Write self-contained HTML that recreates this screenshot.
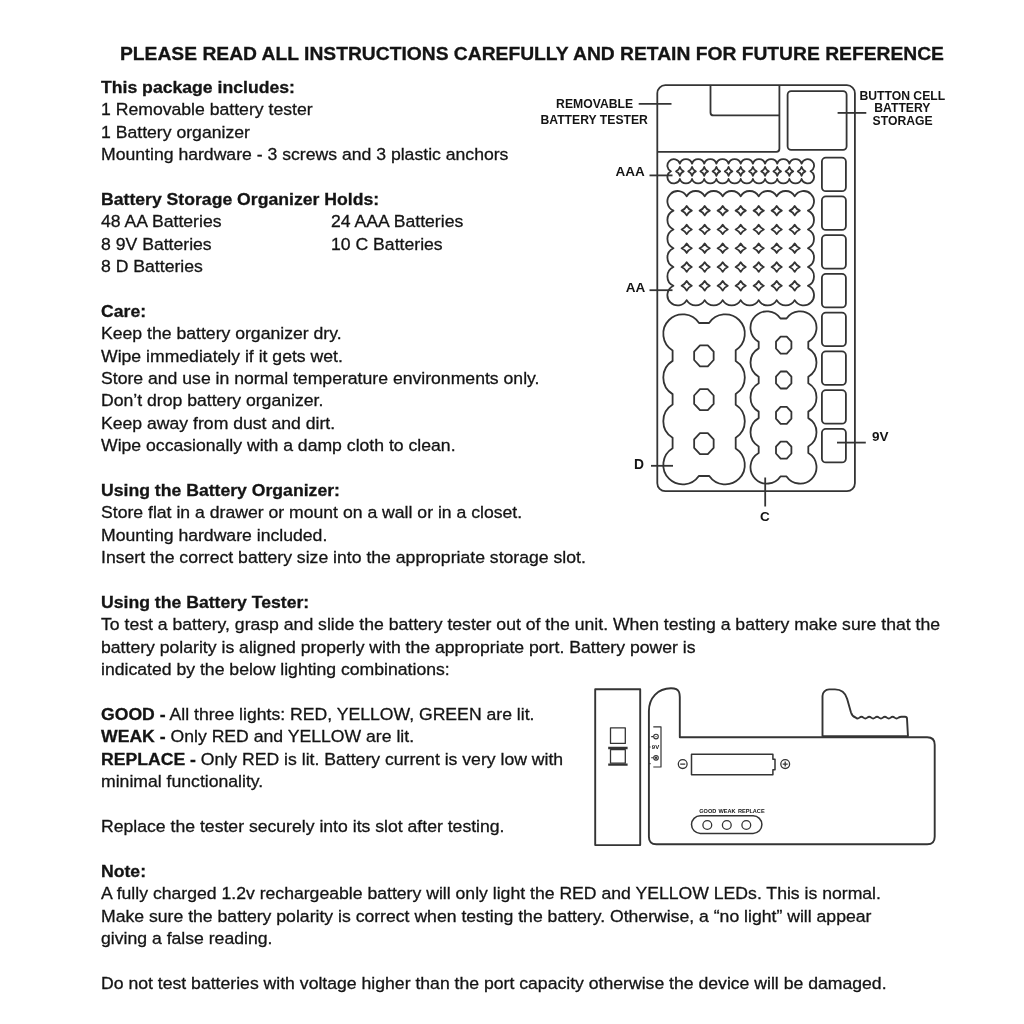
<!DOCTYPE html>
<html><head><meta charset="utf-8"><title>Instructions</title>
<style>
html,body{margin:0;padding:0;background:#fff;}
body{width:1024px;height:1024px;position:relative;overflow:hidden;font-family:"Liberation Sans",sans-serif;color:#141414;filter:blur(0.5px);}
.t{position:absolute;white-space:nowrap;line-height:20px;transform-origin:0 50%;-webkit-text-stroke:0.3px #141414;}
.t b{font-weight:bold;}
.lb{position:absolute;white-space:nowrap;font-weight:bold;line-height:14px;color:#141414;filter:blur(0.5px);}
svg{position:absolute;left:0;top:0;}
</style></head><body>

<div class="t " style="left:120.30px;top:43.56px;font-size:18.6px;transform:scaleX(1.0358)"><b>PLEASE READ ALL INSTRUCTIONS CAREFULLY AND RETAIN FOR FUTURE REFERENCE</b></div>
<div class="t " style="left:100.70px;top:76.84px;font-size:17.2px;transform:scaleX(1.0252)"><b>This package includes:</b></div>
<div class="t " style="left:100.70px;top:99.24px;font-size:17.2px;transform:scaleX(1.0252)">1 Removable battery tester</div>
<div class="t " style="left:100.70px;top:121.64px;font-size:17.2px;transform:scaleX(1.0252)">1 Battery organizer</div>
<div class="t " style="left:100.70px;top:144.04px;font-size:17.2px;transform:scaleX(1.0252)">Mounting hardware - 3 screws and 3 plastic anchors</div>
<div class="t " style="left:100.70px;top:188.84px;font-size:17.2px;transform:scaleX(1.0252)"><b>Battery Storage Organizer Holds:</b></div>
<div class="t " style="left:100.70px;top:211.24px;font-size:17.2px;transform:scaleX(1.0252)">48 AA Batteries</div>
<div class="t " style="left:330.90px;top:211.24px;font-size:17.2px;transform:scaleX(1.0252)">24 AAA Batteries</div>
<div class="t " style="left:100.70px;top:233.64px;font-size:17.2px;transform:scaleX(1.0252)">8 9V Batteries</div>
<div class="t " style="left:330.90px;top:233.64px;font-size:17.2px;transform:scaleX(1.0252)">10 C Batteries</div>
<div class="t " style="left:100.70px;top:256.04px;font-size:17.2px;transform:scaleX(1.0252)">8 D Batteries</div>
<div class="t " style="left:100.70px;top:300.84px;font-size:17.2px;transform:scaleX(1.0252)"><b>Care:</b></div>
<div class="t " style="left:100.70px;top:323.24px;font-size:17.2px;transform:scaleX(1.0252)">Keep the battery organizer dry.</div>
<div class="t " style="left:100.70px;top:345.64px;font-size:17.2px;transform:scaleX(1.0252)">Wipe immediately if it gets wet.</div>
<div class="t " style="left:100.70px;top:368.04px;font-size:17.2px;transform:scaleX(1.0252)">Store and use in normal temperature environments only.</div>
<div class="t " style="left:100.70px;top:390.44px;font-size:17.2px;transform:scaleX(1.0252)">Don&rsquo;t drop battery organizer.</div>
<div class="t " style="left:100.70px;top:412.84px;font-size:17.2px;transform:scaleX(1.0252)">Keep away from dust and dirt.</div>
<div class="t " style="left:100.70px;top:435.24px;font-size:17.2px;transform:scaleX(1.0252)">Wipe occasionally with a damp cloth to clean.</div>
<div class="t " style="left:100.70px;top:480.04px;font-size:17.2px;transform:scaleX(1.0252)"><b>Using the Battery Organizer:</b></div>
<div class="t " style="left:100.70px;top:502.44px;font-size:17.2px;transform:scaleX(1.0252)">Store flat in a drawer or mount on a wall or in a closet.</div>
<div class="t " style="left:100.70px;top:524.84px;font-size:17.2px;transform:scaleX(1.0252)">Mounting hardware included.</div>
<div class="t " style="left:100.70px;top:547.24px;font-size:17.2px;transform:scaleX(1.0252)">Insert the correct battery size into the appropriate storage slot.</div>
<div class="t " style="left:100.70px;top:592.04px;font-size:17.2px;transform:scaleX(1.0252)"><b>Using the Battery Tester:</b></div>
<div class="t " style="left:100.70px;top:614.44px;font-size:17.2px;transform:scaleX(1.0252)">To test a battery, grasp and slide the battery tester out of the unit. When testing a battery make sure that the</div>
<div class="t " style="left:100.70px;top:636.84px;font-size:17.2px;transform:scaleX(1.0252)">battery polarity is aligned properly with the appropriate port. Battery power is</div>
<div class="t " style="left:100.70px;top:659.24px;font-size:17.2px;transform:scaleX(1.0252)">indicated by the below lighting combinations:</div>
<div class="t " style="left:100.70px;top:704.04px;font-size:17.2px;transform:scaleX(1.0252)"><b>GOOD -</b> All three lights: RED, YELLOW, GREEN are lit.</div>
<div class="t " style="left:100.70px;top:726.44px;font-size:17.2px;transform:scaleX(1.0252)"><b>WEAK -</b> Only RED and YELLOW are lit.</div>
<div class="t " style="left:100.70px;top:748.84px;font-size:17.2px;transform:scaleX(1.0252)"><b>REPLACE -</b> Only RED is lit. Battery current is very low with</div>
<div class="t " style="left:100.70px;top:771.24px;font-size:17.2px;transform:scaleX(1.0252)">minimal functionality.</div>
<div class="t " style="left:100.70px;top:816.04px;font-size:17.2px;transform:scaleX(1.0252)">Replace the tester securely into its slot after testing.</div>
<div class="t " style="left:100.70px;top:860.84px;font-size:17.2px;transform:scaleX(1.0252)"><b>Note:</b></div>
<div class="t " style="left:100.70px;top:883.24px;font-size:17.2px;transform:scaleX(1.0252)">A fully charged 1.2v rechargeable battery will only light the RED and YELLOW LEDs. This is normal.</div>
<div class="t " style="left:100.70px;top:905.64px;font-size:17.2px;transform:scaleX(1.0252)">Make sure the battery polarity is correct when testing the battery. Otherwise, a &ldquo;no light&rdquo; will appear</div>
<div class="t " style="left:100.70px;top:928.04px;font-size:17.2px;transform:scaleX(1.0252)">giving a false reading.</div>
<div class="t " style="left:100.70px;top:972.84px;font-size:17.2px;transform:scaleX(1.0252)">Do not test batteries with voltage higher than the port capacity otherwise the device will be damaged.</div>
<svg width="1024" height="1024" viewBox="0 0 1024 1024">
<g fill="none" stroke="#343434" stroke-width="1.8" stroke-linecap="butt" stroke-linejoin="round">
<rect x="657.3" y="85.2" width="197.6" height="406" rx="8" ry="8"/>
<path d="M657.3 151.8 H776.4 Q779.4 151.8 779.4 148.8 V85.2"/>
<path d="M710.5 85.2 V112.4 Q710.5 115.4 713.5 115.4 H779.4"/>
<rect x="787.6" y="91.2" width="59" height="58.6" rx="3.5"/>
<rect x="821.9" y="157.60" width="24" height="33.6" rx="4"/>
<rect x="821.9" y="196.35" width="24" height="33.6" rx="4"/>
<rect x="821.9" y="235.10" width="24" height="33.6" rx="4"/>
<rect x="821.9" y="273.85" width="24" height="33.6" rx="4"/>
<rect x="821.9" y="312.60" width="24" height="33.6" rx="4"/>
<rect x="821.9" y="351.35" width="24" height="33.6" rx="4"/>
<rect x="821.9" y="390.10" width="24" height="33.6" rx="4"/>
<rect x="821.9" y="428.85" width="24" height="33.6" rx="4"/>
</g>
<g fill="none" stroke="#343434" stroke-width="1.8" stroke-linejoin="round">
<path d="M670.89 171.30 A6.40 6.40 0 0 1 669.27 161.07 A6.40 6.40 0 0 1 679.88 163.62 A6.40 6.40 0 0 1 692.05 163.62 A6.40 6.40 0 0 1 704.23 163.62 A6.40 6.40 0 0 1 716.39 163.62 A6.40 6.40 0 0 1 728.56 163.62 A6.40 6.40 0 0 1 740.74 163.62 A6.40 6.40 0 0 1 752.90 163.62 A6.40 6.40 0 0 1 765.08 163.62 A6.40 6.40 0 0 1 777.25 163.62 A6.40 6.40 0 0 1 789.41 163.62 A6.40 6.40 0 0 1 801.59 163.62 A6.40 6.40 0 0 1 812.20 161.07 A6.40 6.40 0 0 1 810.58 171.30 A6.40 6.40 0 0 1 812.20 181.53 A6.40 6.40 0 0 1 801.58 178.98 A6.40 6.40 0 0 1 789.41 178.98 A6.40 6.40 0 0 1 777.24 178.98 A6.40 6.40 0 0 1 765.07 178.98 A6.40 6.40 0 0 1 752.90 178.98 A6.40 6.40 0 0 1 740.73 178.98 A6.40 6.40 0 0 1 728.56 178.98 A6.40 6.40 0 0 1 716.39 178.98 A6.40 6.40 0 0 1 704.22 178.98 A6.40 6.40 0 0 1 692.05 178.98 A6.40 6.40 0 0 1 679.88 178.98 A6.40 6.40 0 0 1 669.27 181.53 A6.40 6.40 0 0 1 670.89 171.30 Z"/>
<path d="M679.88 166.84 A6.40 6.40 0 0 0 683.69 171.30 A6.40 6.40 0 0 0 679.88 175.76 A6.40 6.40 0 0 0 676.08 171.30 A6.40 6.40 0 0 0 679.88 166.84 Z"/>
<path d="M692.05 166.84 A6.40 6.40 0 0 0 695.86 171.30 A6.40 6.40 0 0 0 692.05 175.76 A6.40 6.40 0 0 0 688.25 171.30 A6.40 6.40 0 0 0 692.05 166.84 Z"/>
<path d="M704.22 166.84 A6.40 6.40 0 0 0 708.03 171.30 A6.40 6.40 0 0 0 704.22 175.76 A6.40 6.40 0 0 0 700.42 171.30 A6.40 6.40 0 0 0 704.22 166.84 Z"/>
<path d="M716.39 166.84 A6.40 6.40 0 0 0 720.20 171.30 A6.40 6.40 0 0 0 716.39 175.76 A6.40 6.40 0 0 0 712.59 171.30 A6.40 6.40 0 0 0 716.39 166.84 Z"/>
<path d="M728.56 166.84 A6.40 6.40 0 0 0 732.37 171.30 A6.40 6.40 0 0 0 728.56 175.76 A6.40 6.40 0 0 0 724.76 171.30 A6.40 6.40 0 0 0 728.56 166.84 Z"/>
<path d="M740.73 166.84 A6.40 6.40 0 0 0 744.54 171.30 A6.40 6.40 0 0 0 740.73 175.76 A6.40 6.40 0 0 0 736.93 171.30 A6.40 6.40 0 0 0 740.73 166.84 Z"/>
<path d="M752.90 166.84 A6.40 6.40 0 0 0 756.71 171.30 A6.40 6.40 0 0 0 752.90 175.76 A6.40 6.40 0 0 0 749.10 171.30 A6.40 6.40 0 0 0 752.90 166.84 Z"/>
<path d="M765.07 166.84 A6.40 6.40 0 0 0 768.88 171.30 A6.40 6.40 0 0 0 765.07 175.76 A6.40 6.40 0 0 0 761.27 171.30 A6.40 6.40 0 0 0 765.07 166.84 Z"/>
<path d="M777.24 166.84 A6.40 6.40 0 0 0 781.05 171.30 A6.40 6.40 0 0 0 777.24 175.76 A6.40 6.40 0 0 0 773.44 171.30 A6.40 6.40 0 0 0 777.24 166.84 Z"/>
<path d="M789.41 166.84 A6.40 6.40 0 0 0 793.22 171.30 A6.40 6.40 0 0 0 789.41 175.76 A6.40 6.40 0 0 0 785.61 171.30 A6.40 6.40 0 0 0 789.41 166.84 Z"/>
<path d="M801.58 166.84 A6.40 6.40 0 0 0 805.39 171.30 A6.40 6.40 0 0 0 801.58 175.76 A6.40 6.40 0 0 0 797.78 171.30 A6.40 6.40 0 0 0 801.58 166.84 Z"/>
<path d="M673.46 210.69 A10.30 10.30 0 0 1 670.42 194.02 A10.30 10.30 0 0 1 686.70 196.29 A10.30 10.30 0 0 1 704.70 196.29 A10.30 10.30 0 0 1 722.70 196.29 A10.30 10.30 0 0 1 740.70 196.29 A10.30 10.30 0 0 1 758.70 196.29 A10.30 10.30 0 0 1 776.70 196.29 A10.30 10.30 0 0 1 794.70 196.29 A10.30 10.30 0 0 1 810.98 194.02 A10.30 10.30 0 0 1 807.94 210.69 A10.30 10.30 0 0 1 807.94 229.46 A10.30 10.30 0 0 1 807.94 248.22 A10.30 10.30 0 0 1 807.94 267.00 A10.30 10.30 0 0 1 807.94 285.76 A10.30 10.30 0 0 1 810.98 302.43 A10.30 10.30 0 0 1 794.70 300.16 A10.30 10.30 0 0 1 776.70 300.16 A10.30 10.30 0 0 1 758.70 300.16 A10.30 10.30 0 0 1 740.70 300.16 A10.30 10.30 0 0 1 722.70 300.16 A10.30 10.30 0 0 1 704.70 300.16 A10.30 10.30 0 0 1 686.70 300.16 A10.30 10.30 0 0 1 670.42 302.43 A10.30 10.30 0 0 1 673.46 285.76 A10.30 10.30 0 0 1 673.46 267.00 A10.30 10.30 0 0 1 673.46 248.23 A10.30 10.30 0 0 1 673.46 229.46 A10.30 10.30 0 0 1 673.46 210.69 Z"/>
<path d="M686.70 205.96 A10.30 10.30 0 0 0 691.84 210.69 A10.30 10.30 0 0 0 686.70 215.41 A10.30 10.30 0 0 0 681.56 210.69 A10.30 10.30 0 0 0 686.70 205.96 Z"/>
<path d="M704.70 205.96 A10.30 10.30 0 0 0 709.84 210.69 A10.30 10.30 0 0 0 704.70 215.41 A10.30 10.30 0 0 0 699.56 210.69 A10.30 10.30 0 0 0 704.70 205.96 Z"/>
<path d="M722.70 205.96 A10.30 10.30 0 0 0 727.84 210.69 A10.30 10.30 0 0 0 722.70 215.41 A10.30 10.30 0 0 0 717.56 210.69 A10.30 10.30 0 0 0 722.70 205.96 Z"/>
<path d="M740.70 205.96 A10.30 10.30 0 0 0 745.84 210.69 A10.30 10.30 0 0 0 740.70 215.41 A10.30 10.30 0 0 0 735.56 210.69 A10.30 10.30 0 0 0 740.70 205.96 Z"/>
<path d="M758.70 205.96 A10.30 10.30 0 0 0 763.84 210.69 A10.30 10.30 0 0 0 758.70 215.41 A10.30 10.30 0 0 0 753.56 210.69 A10.30 10.30 0 0 0 758.70 205.96 Z"/>
<path d="M776.70 205.96 A10.30 10.30 0 0 0 781.84 210.69 A10.30 10.30 0 0 0 776.70 215.41 A10.30 10.30 0 0 0 771.56 210.69 A10.30 10.30 0 0 0 776.70 205.96 Z"/>
<path d="M794.70 205.96 A10.30 10.30 0 0 0 799.84 210.69 A10.30 10.30 0 0 0 794.70 215.41 A10.30 10.30 0 0 0 789.56 210.69 A10.30 10.30 0 0 0 794.70 205.96 Z"/>
<path d="M686.70 224.73 A10.30 10.30 0 0 0 691.84 229.46 A10.30 10.30 0 0 0 686.70 234.18 A10.30 10.30 0 0 0 681.56 229.46 A10.30 10.30 0 0 0 686.70 224.73 Z"/>
<path d="M704.70 224.73 A10.30 10.30 0 0 0 709.84 229.46 A10.30 10.30 0 0 0 704.70 234.18 A10.30 10.30 0 0 0 699.56 229.46 A10.30 10.30 0 0 0 704.70 224.73 Z"/>
<path d="M722.70 224.73 A10.30 10.30 0 0 0 727.84 229.46 A10.30 10.30 0 0 0 722.70 234.18 A10.30 10.30 0 0 0 717.56 229.46 A10.30 10.30 0 0 0 722.70 224.73 Z"/>
<path d="M740.70 224.73 A10.30 10.30 0 0 0 745.84 229.46 A10.30 10.30 0 0 0 740.70 234.18 A10.30 10.30 0 0 0 735.56 229.46 A10.30 10.30 0 0 0 740.70 224.73 Z"/>
<path d="M758.70 224.73 A10.30 10.30 0 0 0 763.84 229.46 A10.30 10.30 0 0 0 758.70 234.18 A10.30 10.30 0 0 0 753.56 229.46 A10.30 10.30 0 0 0 758.70 224.73 Z"/>
<path d="M776.70 224.73 A10.30 10.30 0 0 0 781.84 229.46 A10.30 10.30 0 0 0 776.70 234.18 A10.30 10.30 0 0 0 771.56 229.46 A10.30 10.30 0 0 0 776.70 224.73 Z"/>
<path d="M794.70 224.73 A10.30 10.30 0 0 0 799.84 229.46 A10.30 10.30 0 0 0 794.70 234.18 A10.30 10.30 0 0 0 789.56 229.46 A10.30 10.30 0 0 0 794.70 224.73 Z"/>
<path d="M686.70 243.50 A10.30 10.30 0 0 0 691.84 248.23 A10.30 10.30 0 0 0 686.70 252.95 A10.30 10.30 0 0 0 681.56 248.23 A10.30 10.30 0 0 0 686.70 243.50 Z"/>
<path d="M704.70 243.50 A10.30 10.30 0 0 0 709.84 248.23 A10.30 10.30 0 0 0 704.70 252.95 A10.30 10.30 0 0 0 699.56 248.23 A10.30 10.30 0 0 0 704.70 243.50 Z"/>
<path d="M722.70 243.50 A10.30 10.30 0 0 0 727.84 248.23 A10.30 10.30 0 0 0 722.70 252.95 A10.30 10.30 0 0 0 717.56 248.23 A10.30 10.30 0 0 0 722.70 243.50 Z"/>
<path d="M740.70 243.50 A10.30 10.30 0 0 0 745.84 248.23 A10.30 10.30 0 0 0 740.70 252.95 A10.30 10.30 0 0 0 735.56 248.23 A10.30 10.30 0 0 0 740.70 243.50 Z"/>
<path d="M758.70 243.50 A10.30 10.30 0 0 0 763.84 248.23 A10.30 10.30 0 0 0 758.70 252.95 A10.30 10.30 0 0 0 753.56 248.23 A10.30 10.30 0 0 0 758.70 243.50 Z"/>
<path d="M776.70 243.50 A10.30 10.30 0 0 0 781.84 248.23 A10.30 10.30 0 0 0 776.70 252.95 A10.30 10.30 0 0 0 771.56 248.23 A10.30 10.30 0 0 0 776.70 243.50 Z"/>
<path d="M794.70 243.50 A10.30 10.30 0 0 0 799.84 248.23 A10.30 10.30 0 0 0 794.70 252.95 A10.30 10.30 0 0 0 789.56 248.23 A10.30 10.30 0 0 0 794.70 243.50 Z"/>
<path d="M686.70 262.27 A10.30 10.30 0 0 0 691.84 267.00 A10.30 10.30 0 0 0 686.70 271.72 A10.30 10.30 0 0 0 681.56 267.00 A10.30 10.30 0 0 0 686.70 262.27 Z"/>
<path d="M704.70 262.27 A10.30 10.30 0 0 0 709.84 267.00 A10.30 10.30 0 0 0 704.70 271.72 A10.30 10.30 0 0 0 699.56 267.00 A10.30 10.30 0 0 0 704.70 262.27 Z"/>
<path d="M722.70 262.27 A10.30 10.30 0 0 0 727.84 267.00 A10.30 10.30 0 0 0 722.70 271.72 A10.30 10.30 0 0 0 717.56 267.00 A10.30 10.30 0 0 0 722.70 262.27 Z"/>
<path d="M740.70 262.27 A10.30 10.30 0 0 0 745.84 267.00 A10.30 10.30 0 0 0 740.70 271.72 A10.30 10.30 0 0 0 735.56 267.00 A10.30 10.30 0 0 0 740.70 262.27 Z"/>
<path d="M758.70 262.27 A10.30 10.30 0 0 0 763.84 267.00 A10.30 10.30 0 0 0 758.70 271.72 A10.30 10.30 0 0 0 753.56 267.00 A10.30 10.30 0 0 0 758.70 262.27 Z"/>
<path d="M776.70 262.27 A10.30 10.30 0 0 0 781.84 267.00 A10.30 10.30 0 0 0 776.70 271.72 A10.30 10.30 0 0 0 771.56 267.00 A10.30 10.30 0 0 0 776.70 262.27 Z"/>
<path d="M794.70 262.27 A10.30 10.30 0 0 0 799.84 267.00 A10.30 10.30 0 0 0 794.70 271.72 A10.30 10.30 0 0 0 789.56 267.00 A10.30 10.30 0 0 0 794.70 262.27 Z"/>
<path d="M686.70 281.04 A10.30 10.30 0 0 0 691.84 285.76 A10.30 10.30 0 0 0 686.70 290.49 A10.30 10.30 0 0 0 681.56 285.76 A10.30 10.30 0 0 0 686.70 281.04 Z"/>
<path d="M704.70 281.04 A10.30 10.30 0 0 0 709.84 285.76 A10.30 10.30 0 0 0 704.70 290.49 A10.30 10.30 0 0 0 699.56 285.76 A10.30 10.30 0 0 0 704.70 281.04 Z"/>
<path d="M722.70 281.04 A10.30 10.30 0 0 0 727.84 285.76 A10.30 10.30 0 0 0 722.70 290.49 A10.30 10.30 0 0 0 717.56 285.76 A10.30 10.30 0 0 0 722.70 281.04 Z"/>
<path d="M740.70 281.04 A10.30 10.30 0 0 0 745.84 285.76 A10.30 10.30 0 0 0 740.70 290.49 A10.30 10.30 0 0 0 735.56 285.76 A10.30 10.30 0 0 0 740.70 281.04 Z"/>
<path d="M758.70 281.04 A10.30 10.30 0 0 0 763.84 285.76 A10.30 10.30 0 0 0 758.70 290.49 A10.30 10.30 0 0 0 753.56 285.76 A10.30 10.30 0 0 0 758.70 281.04 Z"/>
<path d="M776.70 281.04 A10.30 10.30 0 0 0 781.84 285.76 A10.30 10.30 0 0 0 776.70 290.49 A10.30 10.30 0 0 0 771.56 285.76 A10.30 10.30 0 0 0 776.70 281.04 Z"/>
<path d="M794.70 281.04 A10.30 10.30 0 0 0 799.84 285.76 A10.30 10.30 0 0 0 794.70 290.49 A10.30 10.30 0 0 0 789.56 285.76 A10.30 10.30 0 0 0 794.70 281.04 Z"/>
<path d="M699.04 323.00 L709.06 323.00 A19.50 19.50 0 0 1 739.09 320.01 A19.50 19.50 0 0 1 735.70 350.30 L735.70 361.00 A19.50 19.50 0 0 1 735.70 394.00 L735.70 404.70 A19.50 19.50 0 0 1 735.70 437.70 L735.70 448.40 A19.50 19.50 0 0 1 739.09 478.69 A19.50 19.50 0 0 1 709.27 476.00 L698.83 476.00 A19.50 19.50 0 0 1 669.01 478.69 A19.50 19.50 0 0 1 672.60 448.28 L672.60 437.82 A19.50 19.50 0 0 1 672.60 404.58 L672.60 394.12 A19.50 19.50 0 0 1 672.60 360.88 L672.60 350.42 A19.50 19.50 0 0 1 669.01 320.01 A19.50 19.50 0 0 1 699.04 323.00 Z"/>
<path d="M780.48 318.50 L786.52 318.50 A16.40 16.40 0 0 1 811.70 316.10 A16.40 16.40 0 0 1 808.30 341.90 L808.30 348.37 A16.40 16.40 0 0 1 808.30 376.77 L808.30 383.24 A16.40 16.40 0 0 1 808.30 411.64 L808.30 418.11 A16.40 16.40 0 0 1 808.30 446.51 L808.30 452.98 A16.40 16.40 0 0 1 811.70 478.78 A16.40 16.40 0 0 1 786.54 476.40 L780.46 476.40 A16.40 16.40 0 0 1 755.30 478.78 A16.40 16.40 0 0 1 758.70 452.98 L758.70 446.51 A16.40 16.40 0 0 1 758.70 418.11 L758.70 411.64 A16.40 16.40 0 0 1 758.70 383.24 L758.70 376.77 A16.40 16.40 0 0 1 758.70 348.37 L758.70 341.90 A16.40 16.40 0 0 1 755.30 316.10 A16.40 16.40 0 0 1 780.48 318.50 Z"/>
</g>
<g fill="none" stroke="#343434" stroke-width="1.8" stroke-linejoin="round">
<polygon points="700.00,345.30 707.80,345.30 713.65,351.60 713.65,360.00 707.80,366.30 700.00,366.30 694.15,360.00 694.15,351.60"/>
<polygon points="700.00,389.20 707.80,389.20 713.65,395.50 713.65,403.90 707.80,410.20 700.00,410.20 694.15,403.90 694.15,395.50"/>
<polygon points="700.00,433.10 707.80,433.10 713.65,439.40 713.65,447.80 707.80,454.10 700.00,454.10 694.15,447.80 694.15,439.40"/>
<polygon points="780.62,336.60 786.78,336.60 791.40,341.70 791.40,348.50 786.78,353.60 780.62,353.60 776.00,348.50 776.00,341.70"/>
<polygon points="780.62,371.50 786.78,371.50 791.40,376.60 791.40,383.40 786.78,388.50 780.62,388.50 776.00,383.40 776.00,376.60"/>
<polygon points="780.62,406.80 786.78,406.80 791.40,411.90 791.40,418.70 786.78,423.80 780.62,423.80 776.00,418.70 776.00,411.90"/>
<polygon points="780.62,441.60 786.78,441.60 791.40,446.70 791.40,453.50 786.78,458.60 780.62,458.60 776.00,453.50 776.00,446.70"/>
<path d="M638.7 103.9 H671.5"/>
<path d="M837.6 112.9 H866.3"/>
<path d="M649.5 175.4 H672.5"/>
<path d="M649.5 290.2 H672.5"/>
<path d="M651 465.8 H673"/>
<path d="M837 442.6 H865.8"/>
<path d="M765.2 477.5 V506.5"/>
</g>
<g fill="none" stroke="#343434" stroke-width="1.9" stroke-linejoin="round">
<rect x="595.2" y="689.3" width="45" height="155.8"/>
<rect x="610.5" y="727.8" width="14.8" height="15.6" stroke-width="1.3"/>
<rect x="610.5" y="749.6" width="14.8" height="13.6" stroke-width="1.3"/>
<path d="M608.2 748 H627.6 M608.2 764.6 H627.6" stroke-width="2.4"/>
<path d="M648.9 836.7 V711 C649 698 657.5 688.4 671 688.2 Q677.5 688.2 679 692 Q679.8 694 679.8 697 V737.3 H927.2 Q934.7 737.3 934.7 744.8 V836.7 Q934.7 844.2 927.2 844.2 H656.4 Q648.9 844.2 648.9 836.7 Z"/>
<path d="M822.5 736.7 V696 A6.6 6.6 0 0 1 829.1 689.4 H835 C841.5 689.4 845.3 692.6 847.1 698.8 L851 712.5 Q852.3 716.6 855.6 717.5 Q857.55 719.3 859.50 717.6 T863.40 717.6 T867.30 717.6 T871.20 717.6 T875.10 717.6 T879.00 717.6 T882.90 717.6 T886.80 717.6 T890.70 717.6 T894.60 717.6 T898.50 717.6 Q900.00 716.7 901.50 716.7 H905 Q906.9 716.7 907 718.6 L908 736.7"/>
<path d="M822.5 736.6 H908" stroke-width="2.6"/>
<path d="M691.5 754.2 H772.9 V759.2 H775 V769.8 H772.9 V774.7 H691.5 Z" stroke-width="1.5"/>
<circle cx="682.7" cy="764.1" r="4.4" stroke-width="1.3"/>
<circle cx="785.2" cy="764.1" r="4.4" stroke-width="1.3"/>
<path d="M680.2 764.1 H685.2 M782.7 764.1 H787.7 M785.2 761.6 V766.6" stroke-width="1.3"/>
<path d="M653.3 726.8 H661 V767 H653.3" stroke-width="1.2"/>
<circle cx="656" cy="736.6" r="2.3" stroke-width="1.1"/>
<circle cx="656" cy="736.6" r="0.7" fill="#383838" stroke="none"/>
<circle cx="656" cy="757.8" r="2.3" stroke-width="1.1"/>
<circle cx="656" cy="757.8" r="1.2" fill="#383838" stroke="none"/>
<path d="M651.2 736.6 H653.4 M651.2 757.8 H653.4 M649 747 H650.6 M649 763.6 H650.6" stroke-width="1.1"/>
<rect x="691.5" y="815.8" width="70.4" height="17.6" rx="8.8" stroke-width="1.5"/>
<circle cx="707.3" cy="825" r="4.4" stroke-width="1.3"/>
<circle cx="726.8" cy="825" r="4.4" stroke-width="1.3"/>
<circle cx="746.3" cy="825" r="4.4" stroke-width="1.3"/>
</g>
</svg>
<div class="lb" style="left:494.6px;width:200px;text-align:center;top:97.1px;font-size:12.2px">REMOVABLE</div>
<div class="lb" style="left:494.2px;width:200px;text-align:center;top:113.0px;font-size:12.2px">BATTERY TESTER</div>
<div class="lb" style="left:802.3px;width:200px;text-align:center;top:89.0px;font-size:12.2px">BUTTON CELL</div>
<div class="lb" style="left:802.4px;width:200px;text-align:center;top:101.3px;font-size:12.2px">BATTERY</div>
<div class="lb" style="left:802.6px;width:200px;text-align:center;top:113.6px;font-size:12.2px">STORAGE</div>
<div class="lb" style="left:615.6px;top:165.1px;font-size:13.5px">AAA</div>
<div class="lb" style="left:625.8px;top:281.4px;font-size:13.5px">AA</div>
<div class="lb" style="left:634.0px;top:458.1px;font-size:13.8px">D</div>
<div class="lb" style="left:760.0px;top:510.4px;font-size:13.5px">C</div>
<div class="lb" style="left:872.0px;top:430.0px;font-size:13.5px">9V</div>
<div class="lb" style="left:699.2px;top:808.2px;font-size:5.6px;line-height:7px;word-spacing:0.7px">GOOD WEAK REPLACE</div>
<div class="lb" style="left:651.8px;top:743.8px;font-size:6px;line-height:7px">9V</div>
</body></html>
